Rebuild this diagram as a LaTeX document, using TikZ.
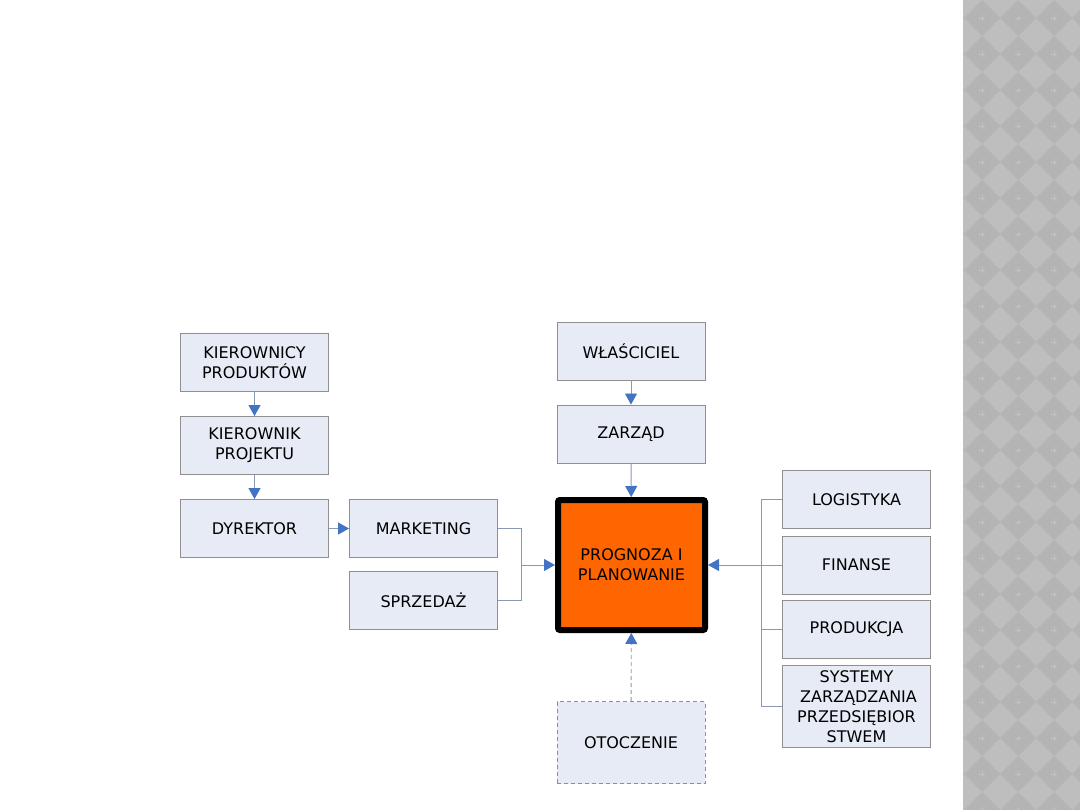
\documentclass[tikz,border=0pt]{standalone}
\usepackage{fontspec}
\setmainfont{DejaVu Sans}
\usetikzlibrary{arrows.meta}

\definecolor{boxfill}{HTML}{E6EBF5}
\definecolor{boxline}{HTML}{8F8F8F}
\definecolor{connline}{HTML}{8A99B3}
\definecolor{tipblue}{HTML}{4472C4}
\definecolor{stripbg}{HTML}{BEBEBE}
\definecolor{stripdk}{HTML}{B4B4B4}
\definecolor{stripmk}{HTML}{C3C3C3}

\tikzset{
  box/.style={draw=boxline, fill=boxfill, line width=0.9pt, inner sep=0pt,
    minimum width=148pt, minimum height=58pt, align=center,
    font=\fontsize{16}{20}\selectfont},
  tallbox/.style={box, minimum height=82pt},
  envbox/.style={tallbox, dash pattern=on 4pt off 3pt},
  keybox/.style={draw=black, fill={rgb,255:red,255;green,102;blue,0}, line width=6pt,
    rounded corners=2pt, inner sep=0pt, minimum width=147pt, minimum height=130pt,
    align=center, font=\fontsize{16}{20}\selectfont},
  conn/.style={draw=connline, line width=0.9pt},
  arr/.style={conn, -{Triangle[length=11pt, width=12pt, color=tipblue]}},
}

\begin{document}
\begin{tikzpicture}[x=1pt, y=-1pt]
\useasboundingbox (0,0) rectangle (1080,810);
\fill[white] (0,0) rectangle (1080,810);

% patterned strip
\begin{scope}
\clip (963,0) rectangle (1080,810);
\fill[stripbg] (963,0) rectangle (1080,810);
\foreach \i in {-1,...,3} {
  \foreach \j in {-1,...,23} {
    \fill[stripdk] (982+36*\i, 18+36*\j-18) -- ++(18,18) -- ++(-18,18) -- ++(-18,-18) -- cycle;
    \draw[stripmk, line width=0.5pt] (979+36*\i, 18+36*\j) -- (985+36*\i, 18+36*\j)
      (982+36*\i, 15+36*\j) -- (982+36*\i, 21+36*\j);
  }
}
\end{scope}

% left column
\node[box] (kprod) at (254.5,362.5) {KIEROWNICY\\PRODUKTÓW};
\node[box] (kproj) at (254.5,445.5) {KIEROWNIK\\PROJEKTU};
\node[box] (dyr) at (254.5,528.5) {DYREKTOR};
\node[box] (mark) at (423.5,528.5) {MARKETING};
\node[box] (sprz) at (423.5,600) {SPRZEDAŻ};

% middle column
\node[box] (wlasc) at (631,351) {WŁAŚCICIEL};
\node[box] (zarz) at (631,434) {ZARZĄD};
\node[keybox] (prog) at (631.5,565) {PROGNOZA I\\PLANOWANIE};
\node[envbox] (otocz) at (631,742.5) {OTOCZENIE};

% right column
\node[box] (log) at (856.5,499.5) {LOGISTYKA};
\node[box] (fin) at (856.5,565) {FINANSE};
\node[box] (prod) at (856.5,629.5) {PRODUKCJA};
\node[tallbox] (sys) at (856.5,706.5) {SYSTEMY\\\hspace*{4pt}ZARZĄDZANIA\\PRZEDSIĘBIOR\\STWEM};

% connectors
\draw[arr] (kprod) -- (kproj);
\draw[arr] (kproj) -- (dyr);
\draw[arr] (dyr) -- (mark);
\draw[arr] (wlasc) -- (zarz);
\draw[arr] (zarz) -- (prog);
\draw[arr, dash pattern=on 4pt off 3pt] (otocz) -- (prog);

\coordinate (jl) at (521,565);
\draw[conn] (mark.east) -| (jl);
\draw[conn] (sprz.east) -| (jl);
\draw[arr] (jl) -- (prog.west);

\coordinate (jr) at (761,565);
\draw[conn] (log.west) -| (jr);
\draw[conn] (prod.west) -| (jr);
\draw[conn] (sys.west) -| (jr);
\draw[arr] (fin.west) -- (prog.east);
\end{tikzpicture}
\end{document}
